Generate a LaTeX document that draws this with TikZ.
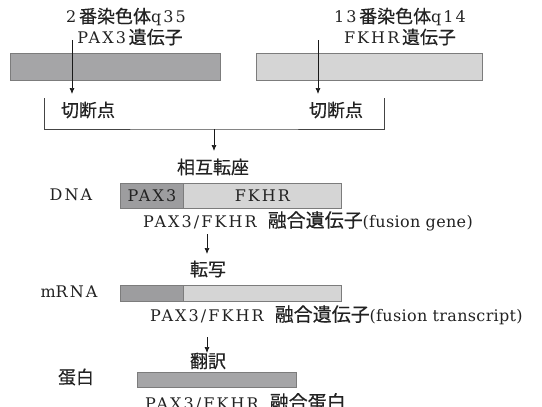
\documentclass[tikz,border=0pt]{standalone}
\usepackage{fontspec}
\setmainfont{DejaVu Serif}[LetterSpace=13]
\newfontfamily\lcfont{DejaVu Serif}[LetterSpace=2]
\newfontfamily\jpfont{Noto Sans CJK JP}[FakeBold=0.4]
\newcommand\J[1]{{\jpfont\fontsize{18}{20}\selectfont #1}}
\newcommand\JC[1]{{\jpfont\fontsize{19}{20}\selectfont #1}}
\newcommand\LC[1]{{\lcfont #1}}
\usetikzlibrary{arrows.meta}
\definecolor{darkg}{HTML}{A5A5A7}
\definecolor{lightg}{HTML}{D5D5D5}
\definecolor{edgeg}{HTML}{7C7C7C}
\definecolor{lineg}{HTML}{444444}
\definecolor{txtg}{HTML}{222222}
\tikzset{
  txt/.style={inner sep=0pt, text=txtg, font=\fontsize{16}{18}\selectfont},
  jtxt/.style={inner sep=0pt, text=txtg, font=\jpfont\fontsize{18}{20}\selectfont},
  barbox/.style={draw=edgeg, line width=0.8pt, inner sep=0pt, anchor=north west},
  arr/.style={draw=black!90, line width=0.7pt, -{Latex[length=6pt,width=5pt]}},
  brk/.style={draw=lineg, line width=0.8pt}
}
\begin{document}
\begin{tikzpicture}[x=1pt,y=-1pt]
\useasboundingbox (0,0) rectangle (542,407);
% top labels
\node[txt] (l1a) at (126,17) {2\,\J{番染色体}q35};
\node[txt] (l1b) at (130,37) {PAX3\,\J{遺伝子}};
\node[txt] (r1a) at (400,17) {13\,\J{番染色体}q14};
\node[txt] (r1b) at (400,37) {FKHR\,\J{遺伝子}};
% chromosome bars
\node[barbox, fill=darkg, minimum width=210pt, minimum height=27pt] (bar2) at (10,53) {};
\node[barbox, fill=lightg, minimum width=226pt, minimum height=27pt] (bar13) at (256,53) {};
% break arrows
\coordinate (a1s) at (72,40);
\coordinate (a1e) at (72,94);
\coordinate (a2s) at (318,40);
\coordinate (a2e) at (318,94);
\draw[arr] (a1s) -- (a1e);
\draw[arr] (a2s) -- (a2e);
\node[jtxt] (cut1) at (88,110) {切断点};
\node[jtxt] (cut2) at (336,110) {切断点};
% bracket
\coordinate (bl) at (44,98);
\coordinate (br) at (384,98);
\coordinate (bc) at (214,129);
\coordinate (bce) at (214,151);
\draw[brk] (bl) |- (bc) -| (br);
\draw[arr] (bc) -- (bce);
\node[jtxt] (trans) at (213,167) {相互転座};
% DNA
\node[txt] (dna) at (71,195) {DNA};
\node[barbox, fill=darkg!95!black, minimum width=63pt, minimum height=25pt] (dpax) at (120,183) {};
\node[barbox, fill=lightg, minimum width=158pt, minimum height=25pt] (dfk) at (183,183) {};
\node[txt] at (dpax.center) {PAX3};
\node[txt] at (dfk.center) {FKHR};
\node[txt, anchor=west] (cap1) at (143,221) {PAX3/FKHR\hspace{11pt}\JC{融合遺伝子}\LC{(fusion gene)}};
\coordinate (t1s) at (207,234);
\coordinate (t1e) at (207,254);
\draw[arr] (t1s) -- (t1e);
\node[jtxt] (tx) at (208,269) {転写};
% mRNA
\node[txt] (mrna) at (69,292) {\LC{m}RNA};
\node[barbox, fill=darkg!95!black, minimum width=63pt, minimum height=16pt] (mpax) at (120,285) {};
\node[barbox, fill=lightg, minimum width=158pt, minimum height=16pt] (mfk) at (183,285) {};
\node[txt, anchor=west] (cap2) at (150,315) {PAX3/FKHR\hspace{11pt}\JC{融合遺伝子}\LC{(fusion transcript)}};
\coordinate (t2s) at (207,337);
\coordinate (t2e) at (207,353);
\draw[arr] (t2s) -- (t2e);
\node[jtxt] (tl) at (208,361) {翻訳};
% protein
\node[jtxt] (prot) at (76,377) {蛋白};
\node[barbox, fill=darkg, minimum width=159pt, minimum height=15pt] (pbar) at (137,372) {};
\node[txt, anchor=west] (cap3) at (145,402) {PAX3/FKHR\hspace{11pt}\JC{融合蛋白}};
\end{tikzpicture}
\end{document}
